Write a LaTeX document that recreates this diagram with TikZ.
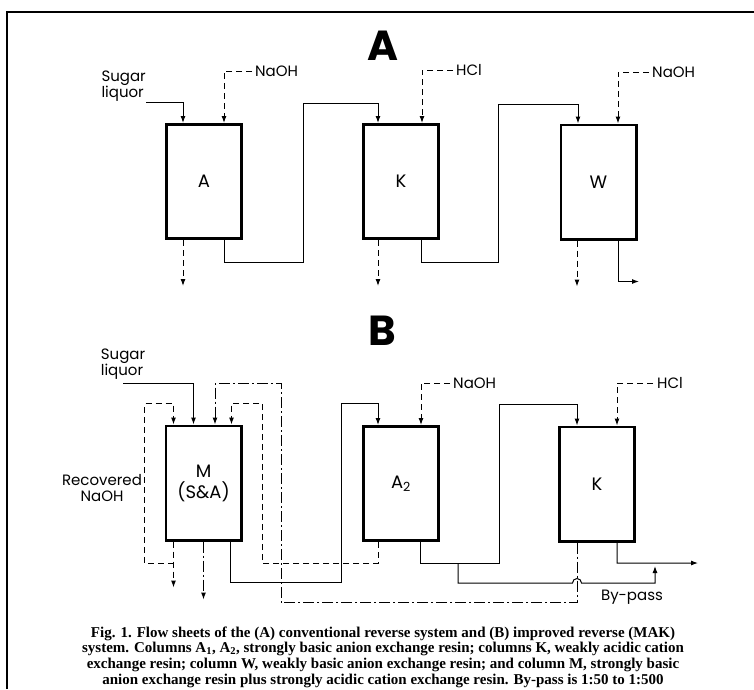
\documentclass[tikz,border=0pt]{standalone}
\usepackage{fontspec}
\newfontfamily\labfont{Poppins}
\newfontfamily\capfont{Liberation Serif}
\usetikzlibrary{arrows.meta,positioning}

\begin{document}
\begin{tikzpicture}[x=1pt,y=-1pt,
  col/.style={draw, line width=2.8pt, minimum width=75.2pt, minimum height=114.2pt,
              inner sep=0pt, align=center, font=\labfont\fontsize{18}{21}\selectfont},
  lbl/.style={inner sep=0pt, font=\labfont\fontsize{15}{16}\selectfont},
  ttl/.style={inner sep=0pt, font=\labfont\bfseries\fontsize{42}{42}\selectfont},
  flow/.style={line width=1pt},
  arr/.style={-{Latex[length=7pt,width=5pt]}},
  reag/.style={flow, dash pattern=on 6pt off 4pt},
  recyc/.style={flow, dash pattern=on 11pt off 3pt on 2pt off 3pt},
]
\useasboundingbox (0,0) rectangle (754,689);
\draw[line width=1.8pt] (7,689) -- (7,12) -- (754,12);

% (A) conventional reverse system
\node[ttl] (ttlA) at (383,46) {A};
\node[col] (a1) at (204,181.5) {A};
\node[col] (ka) at (401,181.5) {K};
\node[col] (wa) at (598.5,182) {W};
\node[lbl, align=left, anchor=south east] (liqA) at (146,102) {Sugar\\liquor};
\node[lbl, anchor=west] (naA) at (255,71) {NaOH};
\node[lbl, anchor=west] (hclA) at (456,70) {HCl};
\node[lbl, anchor=west] (naW) at (652,72) {NaOH};
\draw[flow,arr] (liqA.south east) -| ([xshift=-21pt]a1.north);
\draw[reag,arr] ([xshift=-3pt]naA.west) -| ([xshift=20pt]a1.north);
\draw[reag,arr] ([xshift=-21pt]a1.south) -- ++(0,46);
\draw[flow,arr] ([xshift=20pt]a1.south) -- ++(0,22) -| (303,103) -| ([xshift=-23pt]ka.north);
\draw[reag,arr] ([xshift=-3pt]hclA.west) -| ([xshift=21pt]ka.north);
\draw[reag,arr] ([xshift=-23pt]ka.south) -- ++(0,46);
\draw[flow,arr] ([xshift=20pt]ka.south) -- ++(0,22) -| (498,104) -| ([xshift=-20.5pt]wa.north);
\draw[reag,arr] ([xshift=-3pt]naW.west) -| ([xshift=19.5pt]wa.north);
\draw[reag,arr] ([xshift=-21.5pt]wa.south) -- ++(0,46);
\draw[flow,arr] ([xshift=19.5pt]wa.south) -- ++(0,41) -- ++(21,0);

% (B) improved reverse (MAK) system
\node[ttl] (ttlB) at (382,331) {B};
\node[col] (mb) at (203.5,483) {M\\(S\&A)};
\node[col] (a2) at (401,483.5) {A\textsubscript{2}};
\node[col] (kb) at (597,484) {K};
\node[lbl, align=left, anchor=south] (liqB) at (123,380) {Sugar\\liquor};
\node[lbl, align=center] (recov) at (102,488) {Recovered\\NaOH};
\node[lbl, anchor=west] (naB) at (453,383) {NaOH};
\node[lbl, anchor=west] (hclB) at (657,383) {HCl};
\node[lbl] (byp) at (632,597) {By-pass};
\coordinate (bp) at (458,563);
\draw[flow,arr] ([yshift=-3pt]liqB.south) -| ([xshift=-10pt]mb.north);
\draw[reag,arr] ([xshift=-30pt]mb.south) -- ++(0,46);
\draw[reag,arr] ([xshift=-30pt,yshift=-22pt]mb.south) -- ++(-29,0)
  |- ([xshift=-30pt,yshift=21pt]mb.north) -- ([xshift=-30pt]mb.north);
\draw[recyc,arr] (mb.south) -- ++(0,58);
\draw[flow,arr] ([xshift=27pt]mb.south) -- ++(0,41) -| (341,403) -| ([xshift=-23pt]a2.north);
\draw[reag,arr] ([xshift=-23pt]a2.south) -- ++(0,21) -| (262,403) -| ([xshift=28pt]mb.north);
\draw[recyc,arr] ([xshift=-20pt]kb.south) -- ++(0,60) -| (281,383) -| ([xshift=11.5pt]mb.north);
\draw[reag,arr] ([xshift=-3pt]naB.west) -| ([xshift=20pt]a2.north);
\draw[flow,arr] ([xshift=19pt]a2.south) -- ++(0,21) -| (499,404) -| ([xshift=-20pt]kb.north);
\draw[flow,arr] (bp) -- ++(0,20) -- (572.5,583) arc[start angle=180,end angle=0,radius=4.5pt]
  -- (655,583) -- (655,566);
\draw[reag,arr] ([xshift=-4pt]hclB.west) -| ([xshift=20pt]kb.north);
\draw[flow,arr] ([xshift=20pt]kb.south) -- ++(0,20.5) -- (698,563);

% caption
\node[inner sep=0pt, align=center, font=\capfont\bfseries\fontsize{15}{15.7}\selectfont] (capt) at (383,657)
  {Fig. 1. Flow sheets of the (A) conventional reverse system and (B) improved reverse (MAK)\\
   system. Columns A\textsubscript{1}, A\textsubscript{2}, strongly basic anion exchange resin; columns K, weakly acidic cation\\
   exchange resin; column W, weakly basic anion exchange resin; and column M, strongly basic\\
   anion exchange resin plus strongly acidic cation exchange resin. By-pass is 1:50 to 1:500};
\end{tikzpicture}
\end{document}
